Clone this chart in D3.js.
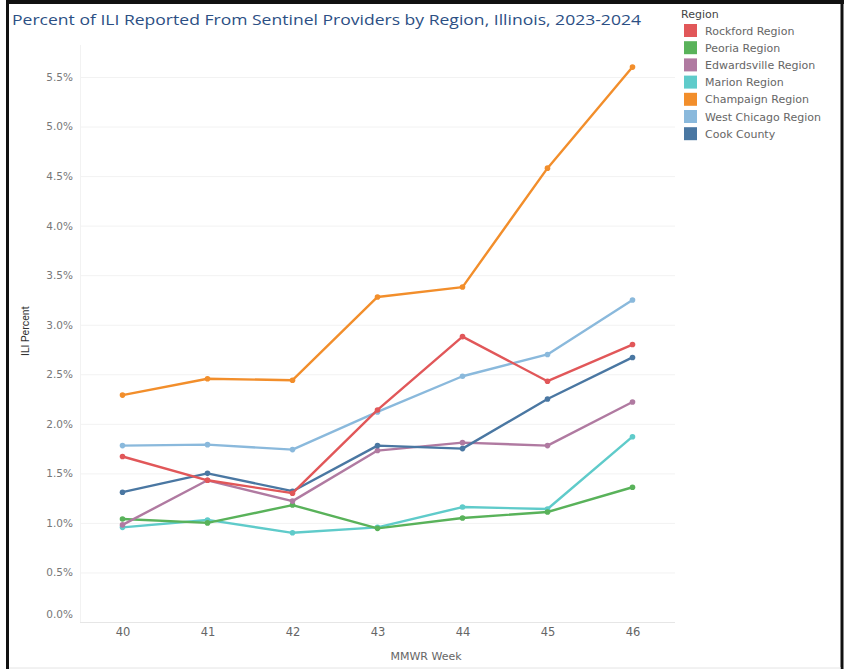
<!DOCTYPE html>
<html><head><meta charset="utf-8">
<script src="https://cdn.jsdelivr.net/npm/d3@7"></script>
<style>
html,body{margin:0;padding:0;background:#fff;}
svg{display:block;font-family:"DejaVu Sans","Open Sans",sans-serif;}
</style></head>
<body>
<svg id="chart" width="845" height="669"></svg>
<script>
const weeks = [40, 41, 42, 43, 44, 45, 46];
const regions = ["Rockford Region","Peoria Region","Edwardsville Region","Marion Region","Champaign Region","West Chicago Region","Cook County"];
const colors = ["#e15759","#59b25a","#b07aa1","#5fcbca","#f28e2b","#8ab9dc","#4a77a2"];
const rockford = [1.67, 1.43, 1.30, 2.14, 2.88, 2.43, 2.80];
const peoria = [1.04, 1.00, 1.18, 0.945, 1.05, 1.11, 1.36];
const edwardsville = [0.98, 1.43, 1.22, 1.73, 1.81, 1.78, 2.22];
const marion = [0.955, 1.03, 0.90, 0.955, 1.16, 1.14, 1.87];
const champaign = [2.29, 2.455, 2.44, 3.28, 3.38, 4.58, 5.60];
const westChicago = [1.78, 1.79, 1.74, 2.12, 2.48, 2.70, 3.25];
const cook = [1.31, 1.50, 1.32, 1.78, 1.75, 2.25, 2.67];
const yTicks = [0, 0.5, 1, 1.5, 2, 2.5, 3, 3.5, 4, 4.5, 5, 5.5];
const seriesValues = [rockford, peoria, edwardsville, marion, champaign, westChicago, cook];

const svg = d3.select("#chart");
const plot = {left: 80, right: 675, top: 40, bottom: 622};

const x = d3.scalePoint().domain(weeks).range([plot.left, plot.right]).padding(0.5);
const y = d3.scaleLinear().domain([0, 5.5]).range([plot.bottom, 77]);

// frame
svg.append("line").attr("x1",7.5).attr("x2",7.5).attr("y1",0).attr("y2",669).attr("stroke","#111").attr("stroke-width",3);
svg.append("line").attr("x1",6).attr("x2",844).attr("y1",2).attr("y2",2).attr("stroke","#111").attr("stroke-width",4);
svg.append("line").attr("x1",842).attr("x2",842).attr("y1",0).attr("y2",669).attr("stroke","#111").attr("stroke-width",3);
svg.append("line").attr("x1",9).attr("x2",841).attr("y1",668).attr("y2",668).attr("stroke","#e4e4e4").attr("stroke-width",1);

// title
svg.append("text").attr("x",12).attr("y",25).attr("fill","#2c4f84").attr("font-size",15)
  .attr("font-family","'Open Sans',sans-serif")
  .attr("textLength",629).attr("lengthAdjust","spacingAndGlyphs")
  .text("Percent of ILI Reported From Sentinel Providers by Region, Illinois, 2023-2024");

// gridlines
const grid = svg.append("g");
grid.selectAll("line").data(yTicks).join("line")
  .attr("x1",plot.left).attr("x2",plot.right)
  .attr("y1",d=>y(d)+0.5).attr("y2",d=>y(d)+0.5)
  .attr("stroke",d=>d===0?"#e6e6e6":"#f2f2f2").attr("stroke-width",1);
svg.append("line").attr("x1",plot.left+0.5).attr("x2",plot.left+0.5).attr("y1",45).attr("y2",plot.bottom)
  .attr("stroke","#f2f2f2");

// y axis
const yAxis = d3.axisLeft(y).tickValues(yTicks).tickSize(0).tickPadding(0).tickFormat(d=>d3.format(".1f")(d)+"%");
const ya = svg.append("g").attr("transform",`translate(73,0)`).call(yAxis);
ya.select(".domain").remove();
ya.selectAll("text").attr("fill","#777").attr("font-size",10.5).attr("font-family","'DejaVu Sans',sans-serif")
  .attr("dy", d=> d===0 ? "-0.4em" : "0.32em");

// x axis
const xAxis = d3.axisBottom(x).tickSize(0).tickPadding(0);
const xa = svg.append("g").attr("transform",`translate(0,${plot.bottom})`).call(xAxis);
xa.select(".domain").remove();
xa.selectAll("text").attr("fill","#666").attr("font-size",11.5).attr("font-family","'DejaVu Sans',sans-serif").attr("y",6).attr("dy","0.71em");

// axis titles
svg.append("text").attr("x",426).attr("y",660).attr("text-anchor","middle").attr("fill","#666").attr("font-size",11).text("MMWR Week");
svg.append("text").attr("transform","translate(29,331) rotate(-90)").attr("text-anchor","middle").attr("fill","#333").attr("font-size",10.5)
  .attr("font-family","'Liberation Sans Narrow','Roboto',sans-serif").text("ILI Percent");

// lines
const line = d3.line().x((d,i)=>x(weeks[i])).y(d=>y(d));
const drawOrder = [4,5,3,1,2,6,0];
drawOrder.forEach(k=>{
  const g = svg.append("g");
  g.append("path").datum(seriesValues[k]).attr("d",line).attr("fill","none")
    .attr("stroke",colors[k]).attr("stroke-width",2.4).attr("stroke-linejoin","round");
  g.selectAll("circle").data(seriesValues[k]).join("circle")
    .attr("cx",(d,i)=>x(weeks[i])).attr("cy",d=>y(d)).attr("r",2.8).attr("fill",colors[k]);
});

// legend
const lg = svg.append("g").attr("transform","translate(681,0)");
lg.append("text").attr("x",0).attr("y",18).attr("fill","#444").attr("font-size",11).text("Region");
const items = lg.selectAll("g.it").data(regions).join("g").attr("class","it")
  .attr("transform",(d,i)=>`translate(0,${24+i*17.2})`);
items.append("rect").attr("x",3).attr("y",0).attr("width",13).attr("height",13).attr("fill",(d,i)=>colors[i]);
items.append("text").attr("x",24).attr("y",10.5).attr("fill","#666").attr("font-size",11).text(d=>d);
</script>
</body></html>
